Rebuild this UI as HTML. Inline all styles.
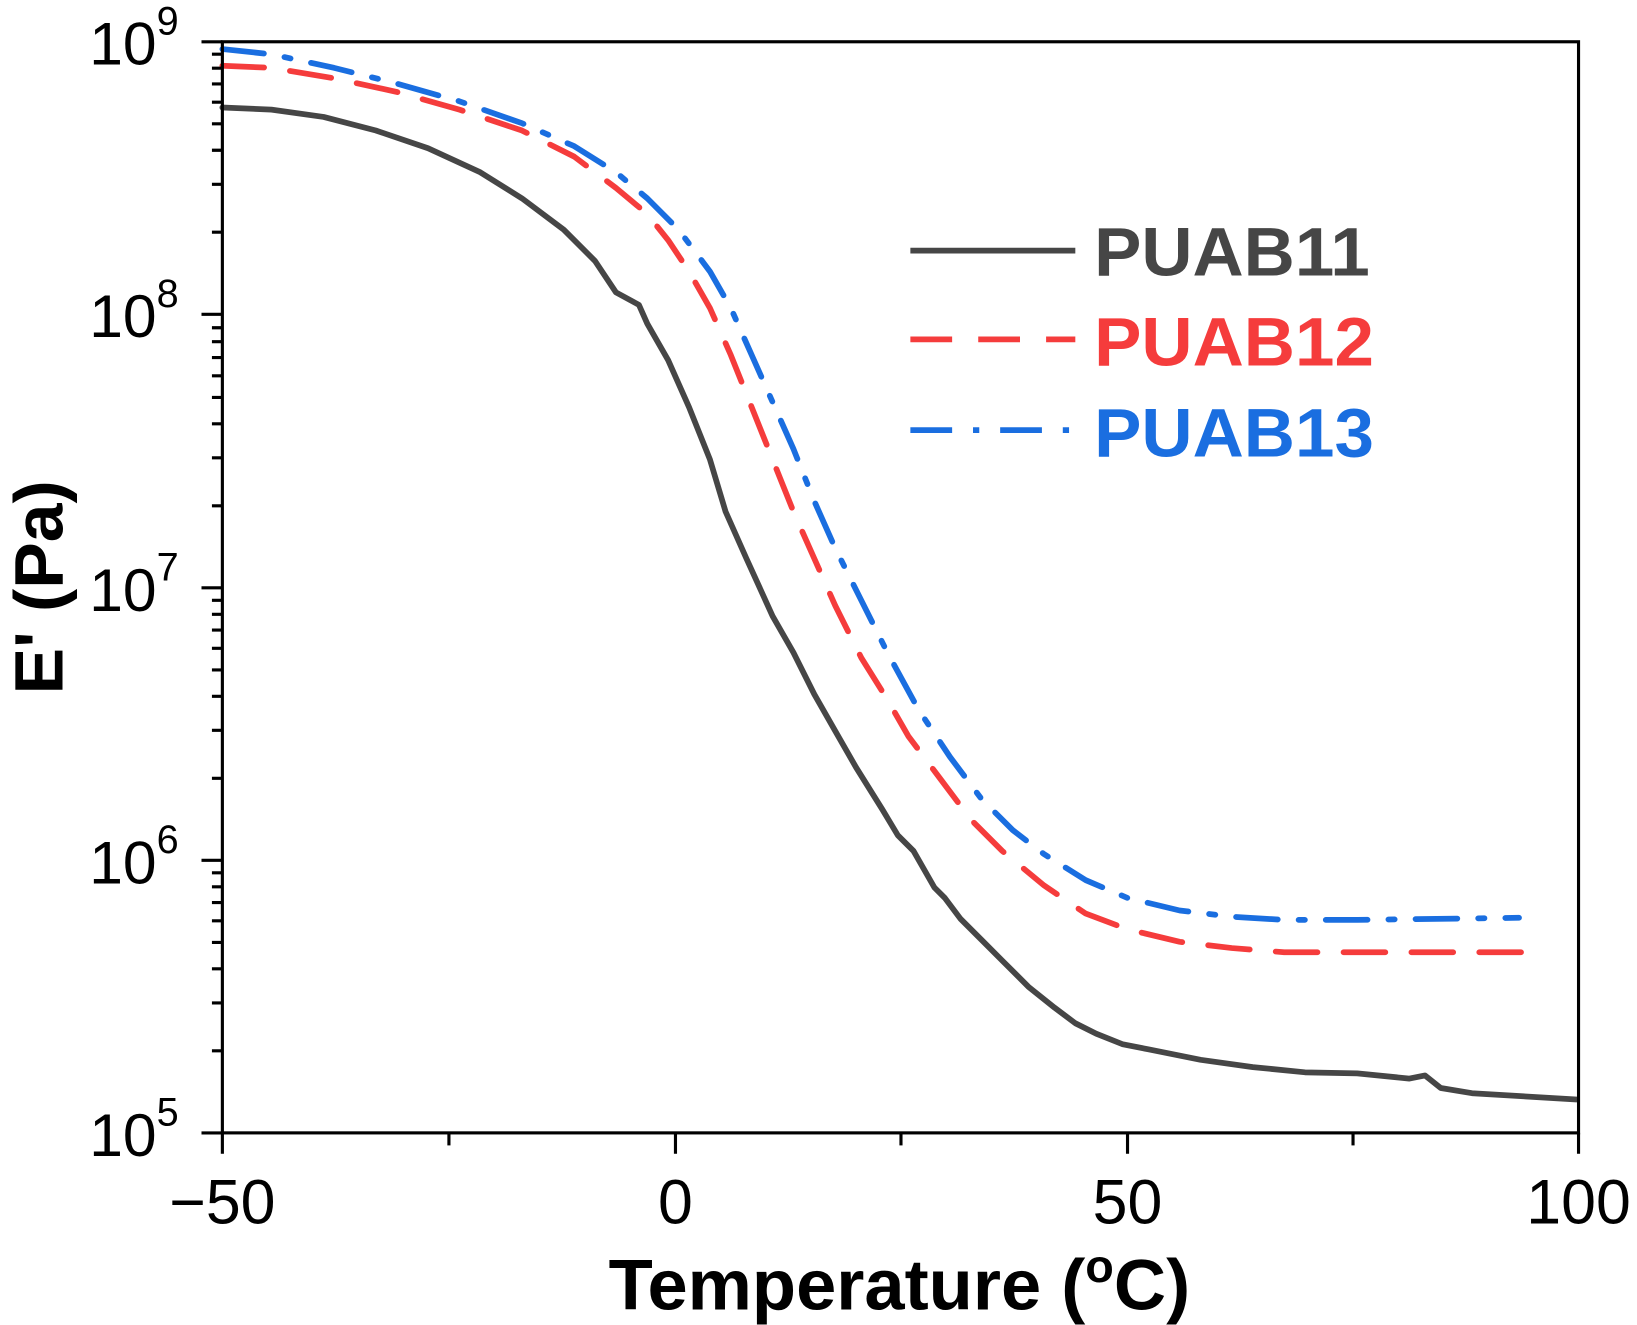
<!DOCTYPE html>
<html><head><meta charset="utf-8"><style>html,body{margin:0;padding:0;background:#fff}svg{display:block}</style></head>
<body>
<svg width="1637" height="1325" viewBox="0 0 1568 1269" preserveAspectRatio="none" xmlns="http://www.w3.org/2000/svg" font-family="Liberation Sans, Arial, sans-serif">
<rect width="1568" height="1269" fill="#fff"/>
<g fill="none" stroke-linejoin="round" stroke-linecap="round">
<polyline stroke="#464646" stroke-width="5.5" points="213,103 260,105 310,112 360,125 410,142 460,165 500,190 540,220 570,250 590,280 612,292 620,310 640,345 660,390 680,440 695,490 715,535 740,590 760,625 780,665 800,700 820,735 845,775 860,800 875,815 895,850 905,860 920,880 940,900 960,920 985,945 1010,965 1030,980 1050,990 1075,1000 1100,1005 1150,1015 1200,1022 1250,1027 1300,1028 1350,1033 1365,1030 1380,1042 1410,1047 1510,1053"/>
<polyline stroke="#f53c3c" stroke-width="5.5" stroke-dasharray="40,25" points="213,63 260,65 320,75 380,88 440,105 500,125 550,150 590,180 620,205 640,230 660,260 680,295 700,340 720,390 740,440 760,490 780,535 800,580 825,630 850,670 870,705 900,745 930,785 960,815 1000,848 1040,875 1080,890 1130,902 1180,908 1230,912 1300,912 1465,912"/>
<polyline stroke="#1a6ee0" stroke-width="5.5" stroke-dasharray="40,20,6,20" points="213,47 260,52 320,65 380,80 440,97 500,118 550,140 590,165 620,190 650,220 680,260 700,295 720,340 740,385 760,430 780,480 800,525 825,575 850,625 880,680 910,725 940,765 970,795 1000,818 1040,843 1080,860 1130,872 1180,878 1230,881 1300,881 1455,879"/>
</g>
<rect x="213" y="40" width="1299" height="1045" fill="none" stroke="#000" stroke-width="3"/>
<g stroke="#000" stroke-width="3">
<line x1="213" y1="1085" x2="213" y2="1105"/><line x1="647" y1="1085" x2="647" y2="1105"/><line x1="1080" y1="1085" x2="1080" y2="1105"/><line x1="1512" y1="1085" x2="1512" y2="1105"/>
<line x1="430" y1="1085" x2="430" y2="1097"/><line x1="863" y1="1085" x2="863" y2="1097"/><line x1="1296" y1="1085" x2="1296" y2="1097"/>
<line x1="193" y1="40" x2="213" y2="40"/><line x1="193" y1="301" x2="213" y2="301"/><line x1="193" y1="563" x2="213" y2="563"/><line x1="193" y1="824" x2="213" y2="824"/><line x1="193" y1="1085" x2="213" y2="1085"/>
</g>
<g stroke="#000" stroke-width="3">
<path d="M203,1006.4H213M203,960.5H213M203,927.9H213M203,902.6H213M203,881.9H213M203,864.4H213M203,849.3H213M203,835.9H213"/>
<path d="M203,745.4H213M203,699.5H213M203,666.9H213M203,641.6H213M203,620.9H213M203,603.4H213M203,588.3H213M203,574.9H213"/>
<path d="M203,484.4H213M203,438.5H213M203,405.9H213M203,380.6H213M203,359.9H213M203,342.4H213M203,327.3H213M203,313.9H213"/>
<path d="M203,222.4H213M203,176.5H213M203,143.9H213M203,118.6H213M203,97.9H213M203,80.4H213M203,65.3H213M203,51.9H213"/>
</g>
<g font-size="60" fill="#000" text-anchor="middle">
<text x="213" y="1172">−50</text><text x="647" y="1172">0</text><text x="1080" y="1172">50</text><text x="1512" y="1172">100</text>
</g>
<g font-size="58" fill="#000" text-anchor="end">
<text x="150" y="62">10</text><text x="150" y="323">10</text><text x="150" y="585">10</text><text x="150" y="846">10</text><text x="150" y="1107">10</text>
</g>
<g font-size="38" fill="#000">
<text x="150" y="33">9</text><text x="150" y="294">8</text><text x="150" y="556">7</text><text x="150" y="817">6</text><text x="150" y="1078">5</text>
</g>
<text x="583" y="1254" font-size="68" font-weight="bold" textLength="557" lengthAdjust="spacingAndGlyphs">Temperature (<tspan font-size="44" dy="-26">o</tspan><tspan dy="26">C)</tspan></text>
<text transform="translate(60,665) rotate(-90)" font-size="66" font-weight="bold" textLength="205" lengthAdjust="spacingAndGlyphs">E' (Pa)</text>
<line x1="872" y1="240" x2="1030" y2="240" stroke="#464646" stroke-width="5.5"/>
<line x1="872" y1="325" x2="1030" y2="325" stroke="#f53c3c" stroke-width="5.5" stroke-dasharray="40,25"/>
<line x1="872" y1="412" x2="1030" y2="412" stroke="#1a6ee0" stroke-width="5.5" stroke-dasharray="40,20,6,20"/>
<g font-size="66" font-weight="bold">
<text x="1048" y="264" fill="#464646" textLength="264" lengthAdjust="spacingAndGlyphs">PUAB11</text>
<text x="1048" y="350" fill="#f53c3c" textLength="268" lengthAdjust="spacingAndGlyphs">PUAB12</text>
<text x="1048" y="437" fill="#1a6ee0" textLength="268" lengthAdjust="spacingAndGlyphs">PUAB13</text>
</g>
</svg>
</body></html>
